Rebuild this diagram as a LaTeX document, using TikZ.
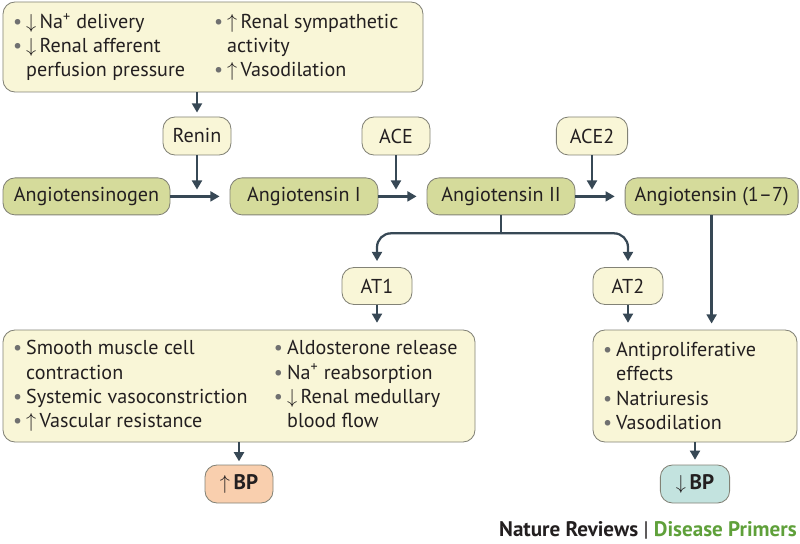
\documentclass[tikz,border=0pt]{standalone}
\usepackage{fontspec}
\setmainfont{PT Sans}
\usetikzlibrary{arrows.meta}
\usetikzlibrary{positioning}
\definecolor{boxfill}{RGB}{249,246,215}
\definecolor{boxline}{RGB}{130,130,118}
\definecolor{agfill}{RGB}{213,219,155}
\definecolor{upfill}{RGB}{249,207,174}
\definecolor{downfill}{RGB}{195,227,223}
\definecolor{arrowc}{RGB}{55,72,85}
\definecolor{dotc}{RGB}{112,112,112}
\definecolor{txt}{RGB}{35,31,32}
\definecolor{nrgreen}{RGB}{95,160,58}
\tikzset{box/.style = {draw=boxline, fill=boxfill, rounded corners=0.3cm,
                       line width=0.6pt, text=txt, inner xsep=0.25cm, inner ysep=0}}
\tikzset{enz/.style = {box, inner xsep=0, minimum width=1.7cm, minimum height=0.95cm}}
\tikzset{ag/.style = {enz, fill=agfill, minimum height=0.925cm}}
\tikzset{bp/.style = {enz, font=\bfseries\fontsize{15}{17}\selectfont}}
\tikzset{link/.style = {draw=arrowc, line width=1.6pt}}
\tikzset{arr/.style = {link, -{Triangle[length=6.5pt,width=7pt]}}}
\newcommand{\blt}{\par\hangindent=0.33cm\hangafter=1\noindent
  \makebox[0.33cm][l]{\textcolor{dotc}{\textbullet}}}
\newcommand{\upar}{$\uparrow$\,}
\newcommand{\dnar}{$\downarrow$\,}

\begin{document}
\begin{tikzpicture}[font=\fontsize{14.3}{17.2}\selectfont]
      \useasboundingbox (0, 0) rectangle (20, -13.6);

      \node [box, minimum width=10.5cm, minimum height=2.25cm] (trigger) at (5.325, -1.175) {%
        \begin{minipage}[t]{5.025cm}
          \blt\dnar Na\textsuperscript{+} delivery
          \blt\dnar Renal afferent\\perfusion pressure
        \end{minipage}%
        \begin{minipage}[t]{4.975cm}
          \blt\upar Renal sympathetic\\activity
          \blt\upar Vasodilation
        \end{minipage}};

      \node [enz] (renin) at (4.925, -3.4) {Renin};
      \node [enz] (ace) at (9.9, -3.4) {ACE};
      \node [enz, minimum width=1.78cm] (ace2) at (14.8, -3.4) {ACE2};

      \node [ag, minimum width=4.175cm] (agen) at (2.1625, -4.91) {Angiotensinogen};
      \node [ag, minimum width=3.7cm] (ang1) at (7.6, -4.91) {Angiotensin I};
      \node [ag, minimum width=3.7cm] (ang2) at (12.525, -4.91) {Angiotensin II};
      \node [ag, minimum width=4.325cm] (ang17) at (17.79, -4.91) {Angiotensin (1--7)};

      \node [enz, minimum width=1.75cm, minimum height=0.925cm] (at1) at (9.425, -7.15) {AT1};
      \node [enz, minimum width=1.75cm, minimum height=0.925cm] (at2) at (15.7, -7.15) {AT2};

      \node [box, minimum width=11.8cm, minimum height=2.8cm] (lbox) at (5.975, -9.65) {%
        \begin{minipage}[t]{6.525cm}
          \blt Smooth muscle cell\\contraction
          \blt Systemic vasoconstriction
          \blt\upar Vascular resistance
        \end{minipage}%
        \begin{minipage}[t]{4.775cm}
          \blt Aldosterone release
          \blt Na\textsuperscript{+} reabsorption
          \blt\dnar Renal medullary\\blood flow
        \end{minipage}};

      \node [box, minimum width=5.1cm, minimum height=2.8cm] (rbox) at (17.375, -9.65) {%
        \begin{minipage}[t]{4.6cm}
          \blt Antiproliferative\\effects
          \blt Natriuresis
          \blt Vasodilation
        \end{minipage}};

      \node [bp, fill=upfill] (bpup) at (5.975, -12.1) {\upar BP};
      \node [bp, fill=downfill, minimum width=1.73cm] (bpdown) at (17.375, -12.1) {\dnar BP};

      \node [anchor=east, inner sep=0, text=txt,
             font=\bfseries\fontsize{15}{17}\selectfont] (credit) at (19.925, -13.25)
            {Nature Reviews {\mdseries|} \textcolor{nrgreen}{Disease Primers}};

      \draw [arr, shorten >=0.1cm] (trigger.south -| renin) -- (renin);
      \draw [arr] (renin) -- ([yshift=0.17cm]renin |- agen);
      \draw [arr] (ace) -- ([yshift=0.17cm]ace |- ang1);
      \draw [arr] (ace2) -- ([yshift=0.17cm]ace2 |- ang2);

      \draw [arr, shorten >=0.25cm] (agen) -- (ang1);
      \draw [arr, shorten >=0.25cm] (ang1) -- (ang2);
      \draw [arr, shorten >=0.25cm] (ang2) -- (ang17);

      \coordinate (split) at ([yshift=-0.45cm]ang2.south);
      \draw [link] (ang2) -- (split);
      \draw [arr, rounded corners=0.35cm, shorten >=0.15cm] (split) -| (at1);
      \draw [arr, rounded corners=0.35cm, shorten >=0.15cm] (split) -| (at2);

      \draw [arr, shorten >=0.17cm] (at1) -- (at1 |- lbox.north);
      \draw [arr, shorten >=0.17cm] (at2) -- (at2 |- rbox.north);
      \draw [arr, shorten >=0.15cm] (ang17) -- (ang17 |- rbox.north);

      \draw [arr, shorten >=0.08cm] (lbox) -- (bpup);
      \draw [arr, shorten >=0.12cm] (rbox) -- (bpdown);
    \end{tikzpicture}
\end{document}
